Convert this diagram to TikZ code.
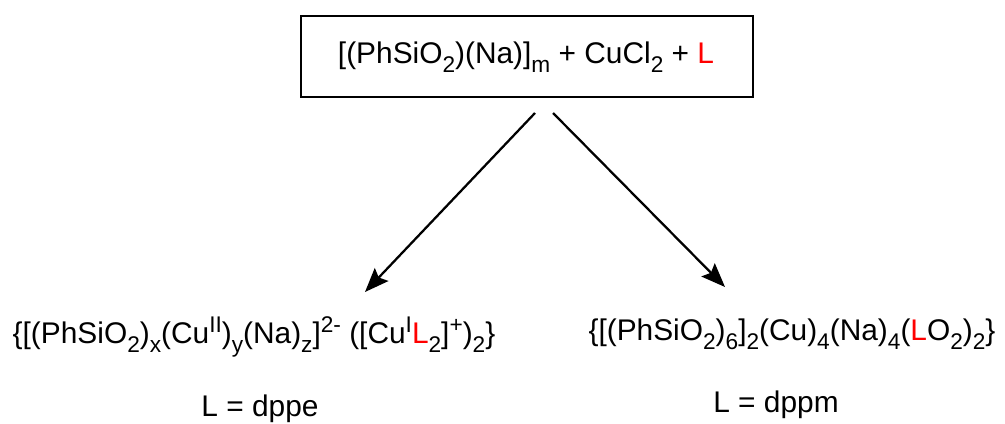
\documentclass[tikz,border=0pt]{standalone}
\usepackage{fontspec}
\setmainfont{Liberation Sans}
\usetikzlibrary{arrows.meta}
\newcommand{\sbs}[1]{\raisebox{-6.5pt}{\fontsize{17}{17}\selectfont #1}}
\newcommand{\sps}[1]{\raisebox{8.5pt}{\fontsize{17}{17}\selectfont #1}}
\tikzset{
  lbl/.style={font=\fontsize{22.4}{26}\selectfont, inner sep=0pt},
  rbox/.style={draw, line width=1.5pt, minimum width=452*0.75pt, minimum height=81*0.75pt},
  rxn/.style={line width=1.7pt, -{Stealth[length=18pt, width=14pt, inset=3pt]}},
}
\begin{document}
\begin{tikzpicture}[x=0.75pt,y=-0.75pt]
\useasboundingbox (0,0) rectangle (1005,424);
\node[rbox] (box) at (527,56.5) {};
\node[lbl] (top) at (526,57) {[(PhSiO\sbs{2})(Na)]\sbs{m} + CuCl\sbs{2} + \textcolor{red}{L}};
\coordinate (s1) at (535,113);
\coordinate (s2) at (553,113);
\node[lbl] (left) at (254,337) {\{[(PhSiO\sbs{2})\sbs{x}(Cu\sps{II})\sbs{y}(Na)\sbs{z}]\sps{2-} ([Cu\sps{I}\textcolor{red}{L}\sbs{2}]\sps{+})\sbs{2}\}};
\node[lbl] (right) at (792,334) {\{[(PhSiO\sbs{2})\sbs{6}]\sbs{2}(Cu)\sbs{4}(Na)\sbs{4}(\textcolor{red}{L}O\sbs{2})\sbs{2}\}};
\node[lbl] (l1) at (260,409) {L = dppe};
\node[lbl] (l2) at (776,405) {L = dppm};
\coordinate (e1) at (365,292);
\coordinate (e2) at (725,287);
\draw[rxn] (s1) -- (e1);
\draw[rxn] (s2) -- (e2);
\end{tikzpicture}
\end{document}
